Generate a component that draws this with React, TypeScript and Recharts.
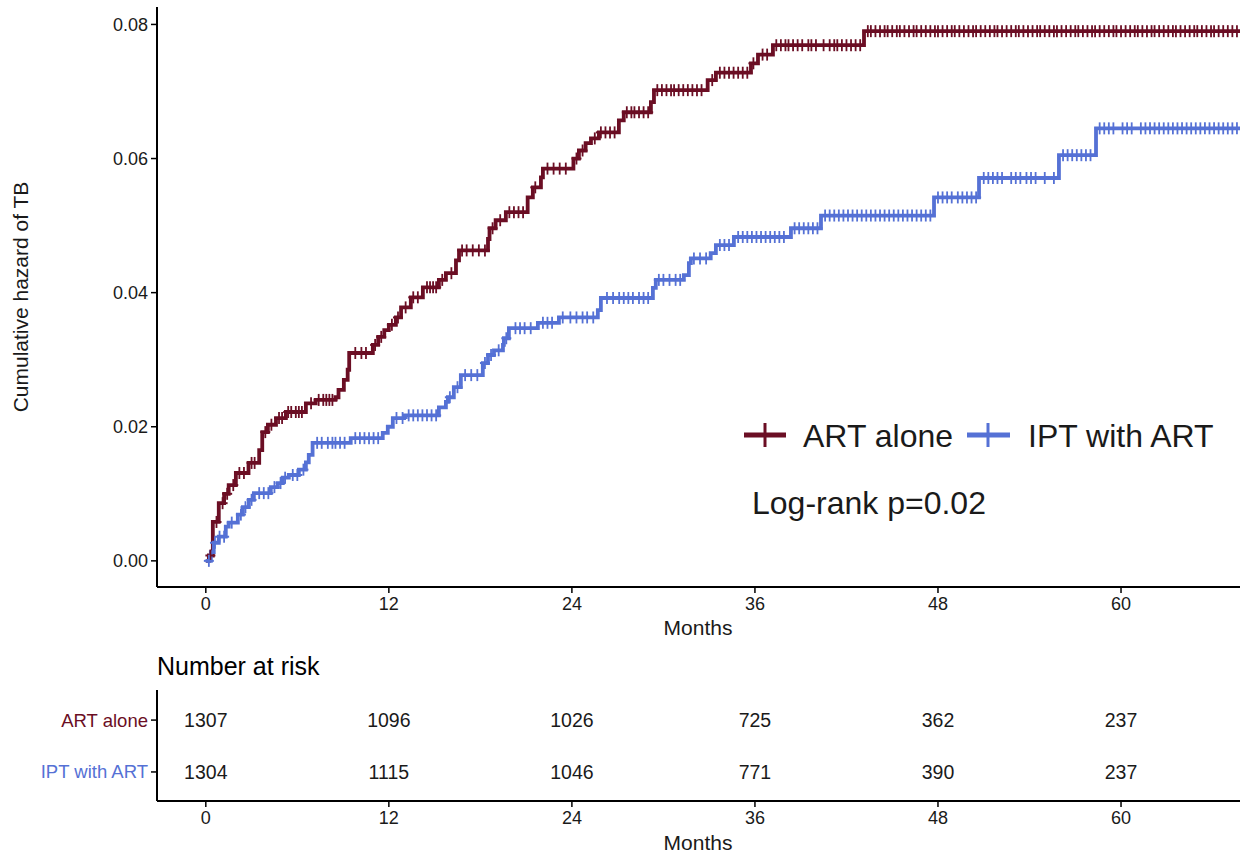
import React from 'react';
import { ComposedChart, Line, Scatter, XAxis, YAxis } from 'recharts';

// cumulative hazard steps (time of jump in months, value after jump)
const artTimes = [0, 0.2, 0.46, 0.85, 1.2, 1.5, 1.97, 2.8, 3.5, 3.7, 4.07, 4.6, 5.25, 6.56, 7.2, 8.5, 8.7, 9.05, 9.3, 9.4, 10.95, 11.3, 11.7, 12.0, 12.46, 12.8, 13.44, 14.23, 15.28, 15.74, 16.4, 16.6, 18.5, 18.6, 19.0, 19.67, 21.1, 21.44, 21.97, 22.1, 24.1, 24.46, 24.9, 25.25, 25.77, 27.08, 27.4, 29.18, 29.38, 32.9, 33.44, 35.74, 36.2, 37.18, 43.15, 67.8];
const artHazard = [0, 0.0008, 0.0058, 0.0086, 0.01, 0.0113, 0.0131, 0.0146, 0.0165, 0.0192, 0.0203, 0.0213, 0.0222, 0.0235, 0.024, 0.0244, 0.0255, 0.027, 0.0285, 0.031, 0.0322, 0.0334, 0.0344, 0.0352, 0.0363, 0.0378, 0.0393, 0.0408, 0.0419, 0.0429, 0.0448, 0.0463, 0.048, 0.0496, 0.0508, 0.052, 0.0542, 0.0557, 0.0572, 0.0585, 0.06, 0.0612, 0.0623, 0.063, 0.0639, 0.0657, 0.0669, 0.0684, 0.0702, 0.0717, 0.0728, 0.0742, 0.0755, 0.0769, 0.079, 0.079];

const iptTimes = [0, 0.33, 0.52, 0.85, 1.31, 1.5, 2.1, 2.43, 2.82, 3.15, 4.26, 4.72, 5.05, 5.44, 6.1, 6.56, 6.75, 7.0, 9.5, 11.6, 11.93, 12.26, 13.0, 15.28, 15.74, 15.87, 16.26, 16.72, 18.16, 18.5, 18.89, 19.48, 19.54, 19.87, 21.77, 23.15, 25.7, 25.9, 29.31, 29.5, 31.34, 31.67, 31.8, 33.1, 33.44, 34.62, 38.36, 40.33, 47.74, 50.69, 55.93, 58.36, 67.8];
const iptHazard = [0, 0.0013, 0.0027, 0.0036, 0.0051, 0.0057, 0.0069, 0.008, 0.0091, 0.0101, 0.011, 0.0116, 0.0124, 0.0128, 0.0136, 0.0147, 0.0158, 0.0176, 0.0183, 0.0191, 0.02, 0.0213, 0.0217, 0.0229, 0.0237, 0.0244, 0.0259, 0.0277, 0.0295, 0.0307, 0.0314, 0.0322, 0.0332, 0.0347, 0.0355, 0.0363, 0.0374, 0.0392, 0.0407, 0.0419, 0.0426, 0.0444, 0.0451, 0.0459, 0.0471, 0.0483, 0.0496, 0.0515, 0.0542, 0.0571, 0.0605, 0.0645, 0.0645];

// censoring times (months)
const artCensor = [0.3, 0.7, 1.1, 1.4, 1.8, 2.2, 2.5, 3.0, 3.2, 3.9, 4.3, 4.8, 5.0, 5.4, 5.6, 5.9, 6.1, 6.3, 6.9, 7.4, 7.7, 7.9, 8.1, 8.3, 9.8, 10.2, 10.5, 11.1, 11.5, 12.2, 12.6, 13.1, 13.6, 13.9, 14.5, 14.7, 14.9, 15.1, 15.5, 16.1, 16.8, 17.1, 17.5, 17.9, 18.3, 18.8, 19.3, 19.9, 20.2, 20.5, 20.8, 21.6, 22.4, 22.8, 23.2, 23.6, 24.3, 24.7, 25.5, 25.9, 26.2, 26.5, 26.8, 27.6, 27.9, 28.1, 28.4, 28.7, 29.0, 29.6, 29.9, 30.2, 30.5, 30.7, 31.0, 31.3, 31.6, 31.9, 32.2, 32.5, 33.2, 33.7, 34.0, 34.3, 34.6, 34.9, 35.2, 35.5, 35.9, 36.5, 36.8, 37.4, 37.7, 38.0, 38.2, 38.5, 38.8, 39.1, 39.5, 39.7, 40.0, 40.5, 40.9, 41.2, 41.4, 41.7, 42.0, 42.3, 42.6, 42.9, 43.4, 43.6, 43.9, 44.2, 44.5, 44.7, 45.0, 45.3, 45.5, 45.8, 46.1, 46.4, 46.6, 46.9, 47.2, 47.5, 47.8, 48.0, 48.3, 48.6, 48.9, 49.1, 49.4, 49.7, 50.0, 50.3, 50.5, 50.8, 51.1, 51.4, 51.7, 51.9, 52.2, 52.5, 52.8, 53.1, 53.3, 53.6, 53.9, 54.2, 54.5, 54.7, 55.0, 55.3, 55.6, 55.8, 56.1, 56.4, 56.7, 57.0, 57.2, 57.5, 57.8, 58.1, 58.3, 58.6, 58.9, 59.2, 59.5, 59.7, 60.0, 60.3, 60.6, 60.9, 61.1, 61.4, 61.7, 62.0, 62.2, 62.5, 62.8, 63.1, 63.4, 63.6, 63.9, 64.2, 64.5, 64.8, 65.0, 65.3, 65.6, 65.9, 66.1, 66.4, 66.7, 67.0, 67.3, 67.6];
const iptCensor = [0.2, 0.6, 0.9, 1.2, 1.7, 2.3, 2.6, 3.0, 3.5, 3.8, 4.1, 4.5, 4.9, 5.2, 5.7, 6.0, 6.4, 7.3, 7.6, 8.0, 8.3, 8.5, 8.8, 9.1, 9.8, 10.1, 10.4, 10.7, 11.0, 11.3, 12.5, 12.9, 13.3, 13.6, 13.9, 14.2, 14.5, 14.8, 15.1, 16.0, 16.5, 17.0, 17.4, 17.8, 18.3, 18.7, 19.2, 19.7, 20.3, 20.6, 20.9, 21.3, 22.1, 22.4, 22.7, 23.4, 23.9, 24.3, 24.7, 25.0, 25.4, 26.3, 26.7, 27.1, 27.4, 27.7, 28.0, 28.4, 28.7, 29.0, 29.7, 30.0, 30.4, 30.8, 31.1, 32.0, 32.4, 32.8, 33.7, 34.0, 34.3, 34.9, 35.2, 35.5, 35.8, 36.1, 36.4, 36.7, 37.0, 37.3, 37.6, 37.9, 38.6, 38.9, 39.2, 39.5, 39.8, 40.1, 40.6, 40.9, 41.2, 41.5, 41.8, 42.1, 42.4, 42.7, 43.0, 43.3, 43.6, 43.9, 44.2, 44.5, 44.8, 45.1, 45.4, 45.7, 46.0, 46.3, 46.6, 46.9, 47.2, 47.5, 48.0, 48.3, 48.6, 48.9, 49.3, 49.6, 49.9, 50.2, 50.5, 51.0, 51.3, 51.6, 51.9, 52.2, 52.8, 53.1, 53.4, 53.8, 54.1, 54.4, 55.0, 55.6, 56.2, 56.5, 56.8, 57.1, 57.4, 57.7, 58.0, 58.6, 58.9, 59.2, 59.5, 60.1, 60.4, 60.7, 61.3, 61.6, 61.9, 62.2, 62.5, 62.8, 63.1, 63.4, 63.7, 64.0, 64.3, 64.6, 64.9, 65.2, 65.5, 65.8, 66.1, 66.4, 66.7, 67.0, 67.3, 67.6];

// number at risk table
const riskTimes = [0, 12, 24, 36, 48, 60];
const artAtRisk = [1307, 1096, 1026, 725, 362, 237];
const iptAtRisk = [1304, 1115, 1046, 771, 390, 237];

const groups = ['ART alone', 'IPT with ART'];
const monthTicks = [0, 12, 24, 36, 48, 60];
const hazardTicks = [0, 0.02, 0.04, 0.06, 0.08];

const RED = '#6b0e24';
const BLUE = '#5571d5';
const INK = '#1a1a1a';

const stepAt = (times: number[], vals: number[], t: number) => {
  let v = vals[0];
  for (let i = 0; i < times.length; i++) if (times[i] <= t) v = vals[i];
  return v;
};
const toSteps = (times: number[], vals: number[]) => times.map((t, i) => ({ t, v: vals[i] }));
const toCensor = (cens: number[], times: number[], vals: number[]) =>
  cens.map((t) => ({ t, v: stepAt(times, vals, t) }));

const artLine = toSteps(artTimes, artHazard);
const iptLine = toSteps(iptTimes, iptHazard);
const artMarks = toCensor(artCensor, artTimes, artHazard);
const iptMarks = toCensor(iptCensor, iptTimes, iptHazard);

const riskRows = [
  ...riskTimes.map((t, i) => ({ t, row: 2, n: artAtRisk[i] })),
  ...riskTimes.map((t, i) => ({ t, row: 1, n: iptAtRisk[i] })),
];

const plus = (color: string) => (p: any) => (
  <g>
    <line x1={p.cx - 5} x2={p.cx + 5} y1={p.cy} y2={p.cy} stroke={color} strokeWidth={2} />
    <line x1={p.cx} x2={p.cx} y1={p.cy - 6} y2={p.cy + 6} stroke={color} strokeWidth={1.8} />
  </g>
);

const riskNumber = (p: any) => (
  <text x={p.cx} y={p.cy} textAnchor="middle" dominantBaseline="central" fontSize={19.5} fill={INK}>
    {p.payload.n}
  </text>
);

const RiskTick = (p: any) => {
  const art = p.payload.value === 2;
  return (
    <text x={p.x} y={p.y} textAnchor="end" dominantBaseline="central" fontSize={18.5} fill={art ? RED : BLUE}>
      {art ? groups[0] : groups[1]}
    </text>
  );
};

const axisLine = { stroke: '#000', strokeWidth: 2 };
const tickLine = { stroke: '#000', strokeWidth: 1.5 };
const tickStyle = { fill: INK, fontSize: 18 };

export default function App() {
  return (
    <div style={{ position: 'absolute', left: 0, top: 0, width: 1244, height: 856, fontFamily: 'Liberation Sans, Arial, sans-serif', background: '#fff' }}>
      <div style={{ position: 'absolute', left: 0, top: 0 }}>
        <ComposedChart width={1244} height={650} margin={{ top: 7, right: 4, bottom: 18, left: 0 }}>
          <XAxis
            dataKey="t"
            type="number"
            domain={[-3.2, 67.8]}
            allowDataOverflow
            ticks={monthTicks}
            height={45}
            axisLine={axisLine}
            tickLine={tickLine}
            tickSize={6}
            tickMargin={4}
            tick={tickStyle}
            label={{
              content: () => (
                <text x={698} y={627} textAnchor="middle" dominantBaseline="central" fontSize={21} fill={INK}>Months</text>
              ),
            }}
          />
          <YAxis
            dataKey="v"
            type="number"
            domain={[-0.0039, 0.0826]}
            allowDataOverflow
            ticks={hazardTicks}
            tickFormatter={(v: number) => v.toFixed(2)}
            width={157}
            axisLine={axisLine}
            tickLine={tickLine}
            tickSize={6}
            tickMargin={3}
            tick={tickStyle}
            label={{
              content: () => (
                <text x={20} y={297} transform="rotate(-90 20 297)" textAnchor="middle" dominantBaseline="central" fontSize={21} fill={INK}>
                  Cumulative hazard of TB
                </text>
              ),
            }}
          />
          <Line data={artLine} dataKey="v" type="stepAfter" stroke={RED} strokeWidth={3.8} dot={false} isAnimationActive={false} />
          <Scatter data={artMarks} shape={plus(RED)} isAnimationActive={false} />
          <Line data={iptLine} dataKey="v" type="stepAfter" stroke={BLUE} strokeWidth={3.8} dot={false} isAnimationActive={false} />
          <Scatter data={iptMarks} shape={plus(BLUE)} isAnimationActive={false} />
        </ComposedChart>
      </div>
      <div style={{ position: 'absolute', left: 0, top: 650 }}>
        <ComposedChart width={1244} height={206} margin={{ top: 40, right: 4, bottom: 5, left: 0 }}>
          <XAxis
            dataKey="t"
            type="number"
            domain={[-3.2, 67.8]}
            allowDataOverflow
            ticks={monthTicks}
            height={50}
            axisLine={axisLine}
            tickLine={tickLine}
            tickSize={6}
            tickMargin={4}
            tick={tickStyle}
            label={{
              content: () => (
                <text x={698} y={192} textAnchor="middle" dominantBaseline="central" fontSize={21} fill={INK}>Months</text>
              ),
            }}
          />
          <YAxis
            dataKey="row"
            type="number"
            domain={[0.44, 2.58]}
            allowDataOverflow
            ticks={[1, 2]}
            width={157}
            axisLine={axisLine}
            tickLine={tickLine}
            tickSize={6}
            tickMargin={3}
            tick={<RiskTick />}
          />
          <Scatter data={riskRows} shape={riskNumber} isAnimationActive={false} />
        </ComposedChart>
      </div>
      <svg width={1244} height={856} style={{ position: 'absolute', left: 0, top: 0, pointerEvents: 'none' }}>
        <line x1={744} x2={786} y1={435} y2={435} stroke={RED} strokeWidth={5} />
        <line x1={765} x2={765} y1={423} y2={447} stroke={RED} strokeWidth={3} />
        <text x={803} y={447} fontSize={32} fill={INK}>{groups[0]}</text>
        <line x1={967} x2={1010} y1={435} y2={435} stroke={BLUE} strokeWidth={5} />
        <line x1={988} x2={988} y1={423} y2={447} stroke={BLUE} strokeWidth={3} />
        <text x={1028} y={447} fontSize={32} fill={INK}>{groups[1]}</text>
        <text x={752} y={514} fontSize={32} fill={INK}>Log-rank p=0.02</text>
        <text x={157} y={675} fontSize={25} fill="#000">Number at risk</text>
      </svg>
    </div>
  );
}
